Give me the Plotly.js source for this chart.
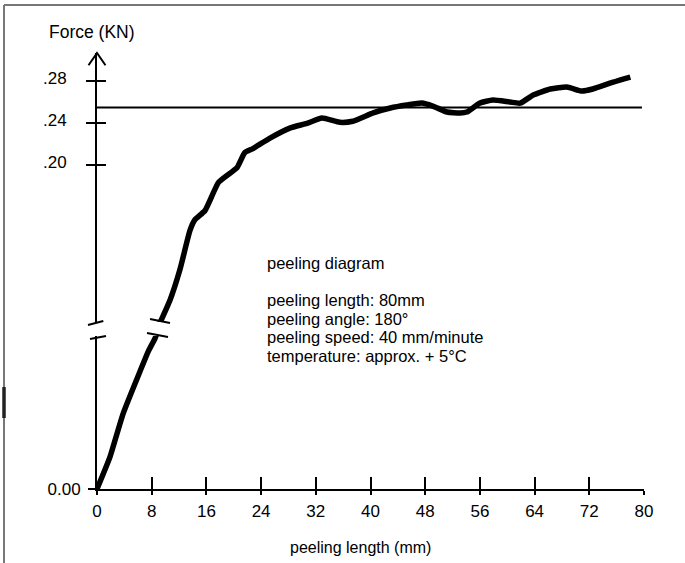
<!DOCTYPE html>
<html>
<head>
<meta charset="utf-8">
<script src="https://cdn.plot.ly/plotly-3.0.1.min.js"></script>
<style>html,body{margin:0;padding:0;background:#fff;}#chart{width:685px;height:563px;}</style>
</head>
<body>
<div id="chart"></div>
<script>
// ---- data ----
const xTickVals = [0, 8, 16, 24, 32, 40, 48, 56, 64, 72, 80];
const xTickText = ['0', '8', '16', '24', '32', '40', '48', '56', '64', '72', '80'];
const yUpperTickVals = [0.20, 0.24, 0.28];
const yUpperTickText = ['.20', '.24', '.28'];
const yLowerTickVals = [0];
const yLowerTickText = ['0.00'];

// curve below the axis break (mm, kN)
const lowerX = [0, 1.9, 3.8, 6.3, 7.5, 8.5, 8.9];
const lowerY = [0, 0.0105, 0.0245, 0.0385, 0.0450, 0.0493, 0.0520];
// curve above the axis break (mm, kN)
const upperX = [9.0, 10.7, 12.1, 13.6, 14.3, 15.8, 17.8, 20.5, 21.6, 22.8, 25.3, 28.2, 30.7, 32.9, 35.5, 37.4, 40.4, 42.9, 45.3, 47.5, 49.1, 51.2, 53.1, 54.1, 56.0, 57.9, 60.4, 61.9, 63.8, 66.3, 68.7, 70.9, 72.5, 75.5, 78.0];
const upperY = [0.047, 0.072, 0.100, 0.138, 0.148, 0.157, 0.184, 0.198, 0.212, 0.216, 0.226, 0.2355, 0.240, 0.245, 0.241, 0.242, 0.250, 0.2546, 0.2574, 0.2593, 0.2565, 0.2508, 0.2498, 0.2508, 0.2593, 0.2622, 0.2603, 0.2593, 0.2670, 0.2727, 0.2746, 0.2708, 0.2727, 0.2793, 0.2841];
// reference level line
const refX = [0, 79.7];
const refY = [0.255, 0.255];

const infoLines = ['peeling diagram', 'peeling length: 80mm', 'peeling angle: 180°', 'peeling speed: 40 mm/minute', 'temperature: approx. + 5°C'];
const infoY = [0.5183, 0.4335, 0.3906, 0.3477, 0.3048];

// ---- drawing ----
const FONT = 'Liberation Sans, Arial, Helvetica, sans-serif';
const font = {family: FONT, size: 17, color: '#000'};
const titleFont = {family: FONT, size: 17.5, color: '#000'};
const infoFont = {family: FONT, size: 16.5, color: '#000'};
const xTitleFont = {family: FONT, size: 16, color: '#000'};

const traces = [
  {x: refX, y: refY, xaxis: 'x', yaxis: 'y2', mode: 'lines', line: {color: '#000', width: 2}, hoverinfo: 'skip'},
  {x: lowerX, y: lowerY, xaxis: 'x', yaxis: 'y', mode: 'lines', line: {color: '#000', width: 5.5, shape: 'spline', smoothing: 0.5}, hoverinfo: 'skip'},
  {x: upperX, y: upperY, xaxis: 'x', yaxis: 'y2', mode: 'lines', line: {color: '#000', width: 5.5, shape: 'spline', smoothing: 0.5}, hoverinfo: 'skip'},
  {x: [], y: [], xaxis: 'x2', yaxis: 'y', mode: 'lines', hoverinfo: 'skip'},
  {x: [], y: [], xaxis: 'x', yaxis: 'y3', mode: 'lines', hoverinfo: 'skip'}
];

const annotations = [
  {text: 'Force (KN)', xref: 'paper', yref: 'paper', x: -0.0914, y: 1.048, xanchor: 'left', yanchor: 'middle', showarrow: false, font: titleFont},
  {text: 'peeling length (mm)', xref: 'paper', yref: 'paper', x: 0.4826, y: -0.1353, xanchor: 'center', yanchor: 'middle', showarrow: false, font: xTitleFont}
];
infoLines.forEach((t, i) => annotations.push({text: t, xref: 'paper', yref: 'paper', x: 0.307, y: infoY[i], xanchor: 'left', yanchor: 'middle', showarrow: false, font: infoFont}));

const blk = {color: '#000', width: 2};
const shapes = [
  // frame of the scanned page
  {type: 'line', xref: 'paper', yref: 'paper', x0: -0.170, x1: -0.170, y0: 1.110, y1: -0.17, line: {color: '#777', width: 2}},
  {type: 'line', xref: 'paper', yref: 'paper', x0: -0.170, x1: 1.08, y0: 1.110, y1: 1.110, line: {color: '#777', width: 2}},
  {type: 'line', xref: 'paper', yref: 'paper', x0: -0.170, x1: -0.170, y0: 0.2339, y1: 0.1628, line: {color: '#222', width: 3.5}},
  // arrow head on the y axis
  {type: 'path', xref: 'paper', yref: 'paper', path: 'M -0.0155,0.972 L 0,1.0 L 0.0155,0.972', line: blk},
  // small stub of the x axis left of the origin
  {type: 'line', xref: 'paper', yref: 'paper', x0: -0.013, x1: 0, y0: 0, y1: 0, line: blk},
  // axis break marks
  {type: 'line', xref: 'paper', yref: 'paper', x0: -0.0165, x1: 0.0115, y0: 0.3761, y1: 0.3853, line: blk},
  {type: 'line', xref: 'paper', yref: 'paper', x0: -0.0128, x1: 0.0165, y0: 0.3440, y1: 0.3509, line: blk},
  // curve break marks
  {type: 'line', xref: 'x', yref: 'paper', x0: 7.75, x1: 10.68, y0: 0.3899, y1: 0.3807, line: blk},
  {type: 'line', xref: 'x', yref: 'paper', x0: 7.31, x1: 10.38, y0: 0.3578, y1: 0.3486, line: blk}
];

const common = {showgrid: false, zeroline: false, tickcolor: '#000', tickwidth: 2, tickfont: font, fixedrange: true};

const layout = {
  width: 685, height: 563,
  margin: {l: 97, r: 41, t: 53, b: 74},
  paper_bgcolor: '#fff', plot_bgcolor: '#fff',
  showlegend: false,
  font: font,
  xaxis: Object.assign({}, common, {range: [0, 80], anchor: 'y', showline: true, linecolor: '#000', linewidth: 2,
    ticks: 'outside', ticklen: 4, tickmode: 'array', tickvals: xTickVals, ticktext: xTickText, ticklabelstandoff: 2}),
  xaxis2: Object.assign({}, common, {range: [0, 80], overlaying: 'x', anchor: 'y', side: 'bottom', showline: false,
    ticks: 'inside', ticklen: 12, tickmode: 'array', tickvals: xTickVals.slice(1), showticklabels: false}),
  yaxis: Object.assign({}, common, {domain: [0, 0.3509], range: [0, 0.05], anchor: 'x', showline: true, linecolor: '#000', linewidth: 2,
    ticks: 'outside', ticklen: 7, tickmode: 'array', tickvals: yLowerTickVals, ticktext: yLowerTickText, ticklabelstandoff: 4}),
  yaxis2: Object.assign({}, common, {domain: [0.383, 1], range: [0.0508, 0.307], anchor: 'x', showline: true, linecolor: '#000', linewidth: 2,
    ticks: 'outside', ticklen: 9, tickmode: 'array', tickvals: yUpperTickVals, ticktext: yUpperTickText, ticklabelstandoff: 16, ticklabelshift: -3}),
  yaxis3: Object.assign({}, common, {range: [0.0508, 0.307], overlaying: 'y2', anchor: 'x', side: 'left', showline: false,
    ticks: 'inside', ticklen: 9, tickmode: 'array', tickvals: yUpperTickVals, showticklabels: false}),
  annotations: annotations,
  shapes: shapes
};

Plotly.newPlot('chart', traces, layout, {staticPlot: true, displayModeBar: false});
</script>
</body>
</html>
